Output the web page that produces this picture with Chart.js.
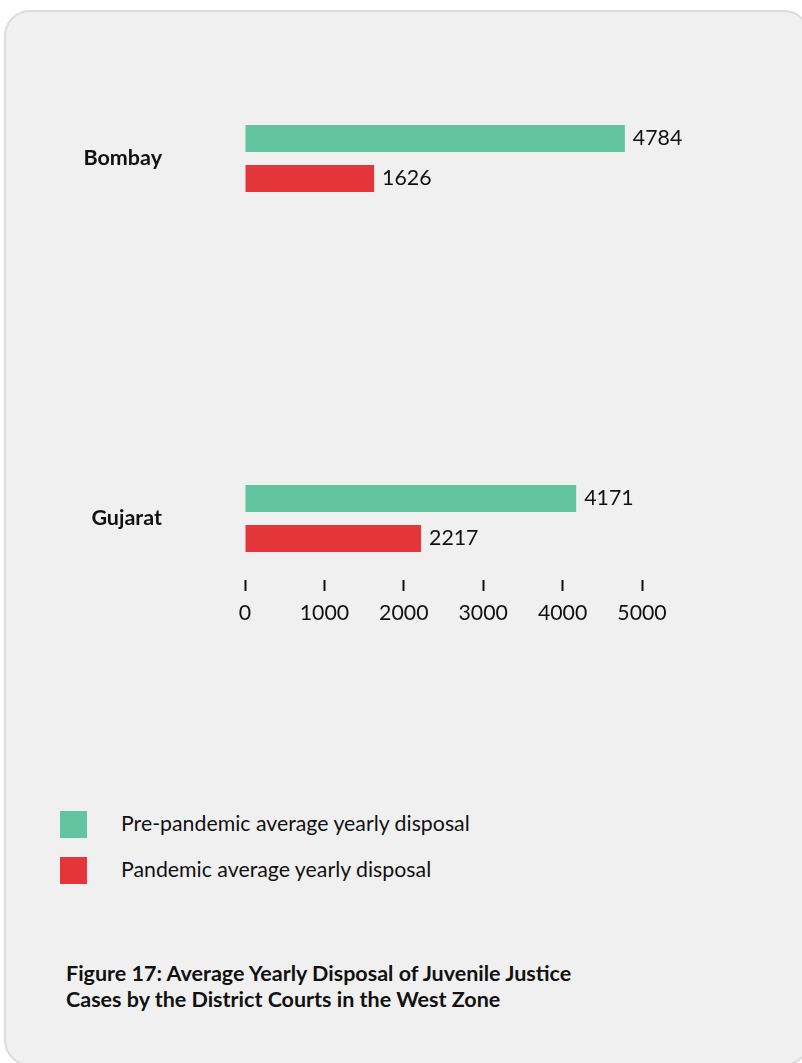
<!DOCTYPE html>
<html>
<head>
<meta charset="utf-8">
<script src="https://cdn.jsdelivr.net/npm/chart.js@4/dist/chart.umd.min.js"></script>
<style>
    html, body { margin: 0; padding: 0; background: #ffffff; }
    body { width: 802px; height: 1063px; position: relative; overflow: hidden; font-family: Lato, "Open Sans", sans-serif; color: #111; }
    .card { position: absolute; left: 4px; top: 10px; width: 806px; height: 1056px; box-sizing: border-box;
            background: #f0f0f0; border: 2px solid #dcdcdc; border-radius: 26px; }
    .chartBox { position: absolute; left: 0; top: 0; width: 802px; height: 700px; }
    .legend { position: absolute; left: 60px; top: 811px; }
    .legend-item { position: relative; height: 27px; margin-bottom: 19px; }
    .legend-item span.box { position: absolute; left: 0; top: 0; width: 27px; height: 27px; }
    .legend-item span.txt { position: absolute; left: 61px; top: -1px; line-height: 27px; font-size: 21.3px; white-space: nowrap; }
    .caption { position: absolute; left: 66px; top: 960px; font-size: 21.5px; font-weight: bold; line-height: 26px; white-space: nowrap; }
</style>
</head>
<body>
<div class="card"></div>
<div class="chartBox"><canvas id="westChart"></canvas></div>
<div class="legend" id="legend"></div>
<div class="caption">Figure 17: Average Yearly Disposal of Juvenile Justice<br>Cases by the District Courts in the West Zone</div>

<script>
    // datos
    var courts = ["Bombay", "Gujarat"];
    var prePandemic = [4784, 4171];
    var pandemic = [1626, 2217];
    var seriesNames = ["Pre-pandemic average yearly disposal", "Pandemic average yearly disposal"];
    var seriesColors = ["#63c4a2", "#e4353b"];
    var xTicks = [0, 1000, 2000, 3000, 4000, 5000];

    // etiquetas de valor a la derecha de cada barra
    var valueLabels = {
        id: "valueLabels",
        afterDatasetsDraw: function (chart) {
            var ctx = chart.ctx;
            ctx.save();
            ctx.font = "21.3px Lato";
            ctx.fillStyle = "#111";
            ctx.textBaseline = "middle";
            ctx.textAlign = "left";
            chart.data.datasets.forEach(function (ds, i) {
                chart.getDatasetMeta(i).data.forEach(function (bar, j) {
                    ctx.fillText(ds.data[j], bar.x + 8, bar.y);
                });
            });
            ctx.restore();
        }
    };

    var ctx = document.getElementById("westChart").getContext("2d");
    var westChart = new Chart(ctx, {
        type: "bar",
        data: {
            labels: courts,
            datasets: [{
                label: seriesNames[0],
                data: prePandemic,
                backgroundColor: seriesColors[0],
                categoryPercentage: 0.2222,
                barPercentage: 0.675,
                clip: false,
            }, {
                label: seriesNames[1],
                data: pandemic,
                backgroundColor: seriesColors[1],
                categoryPercentage: 0.2222,
                barPercentage: 0.675,
                clip: false,
            }],
        },
        options: {
            indexAxis: "y",
            responsive: true,
            maintainAspectRatio: false,
            animation: false,
            layout: { padding: { top: 158.5, bottom: 181.5, left: 0, right: 160 } },
            plugins: { legend: { display: false }, tooltip: { enabled: false } },
            scales: {
                y: {
                    type: "category",
                    offset: false,
                    grid: { display: false, drawTicks: false },
                    border: { display: false },
                    ticks: { color: "#111", font: { family: "Lato", size: 21.5, weight: "bold" }, padding: 83 },
                    afterFit: function (scale) { scale.width = 245; },
                },
                x: {
                    min: 0,
                    max: 5000,
                    position: { y: 1.1708 },
                    afterBuildTicks: function (scale) {
                        scale.ticks = xTicks.map(function (v) { return { value: v }; });
                    },
                    grid: { drawOnChartArea: false, drawTicks: true, tickLength: 11, tickWidth: 2, tickColor: "#111", color: "#111" },
                    border: { display: false },
                    ticks: {
                        color: "#111",
                        font: { family: "Lato", size: 21.3 },
                        padding: 9,
                        maxRotation: 0,
                        callback: function (value) { return String(value); },
                    },
                },
            },
        },
        plugins: [valueLabels],
    });

    // leyenda en html
    var legendHtml = "";
    seriesNames.forEach(function (name, i) {
        legendHtml += '<div class="legend-item"><span class="box" style="background:' + seriesColors[i] + '"></span><span class="txt">' + name + '</span></div>';
    });
    document.getElementById("legend").innerHTML = legendHtml;
</script>
</body>
</html>
